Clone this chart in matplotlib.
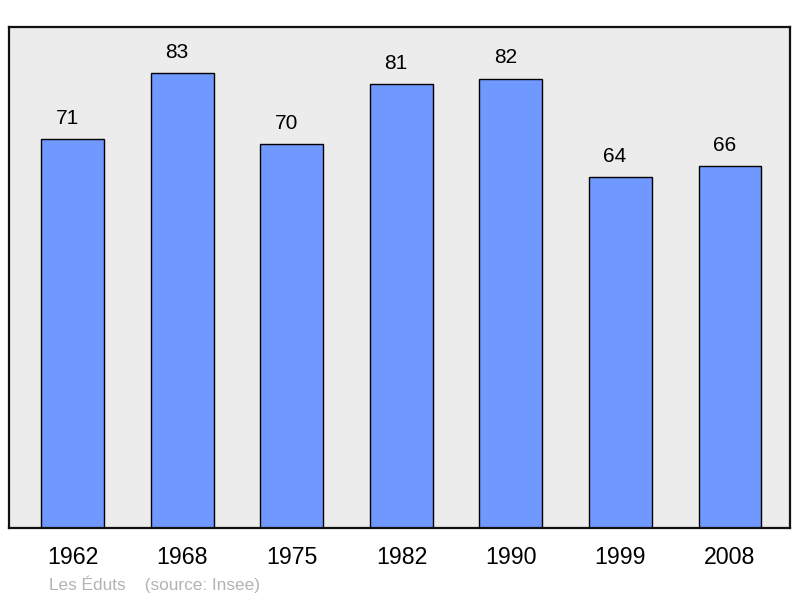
"""Population of Les Éduts by census year (source: Insee)."""
import matplotlib
matplotlib.use("Agg")
import matplotlib.pyplot as plt

years = ["1962", "1968", "1975", "1982", "1990", "1999", "2008"]
population = [71, 83, 70, 81, 82, 64, 66]

plt.rcParams["font.family"] = ["Liberation Sans", "DejaVu Sans"]

fig = plt.figure(figsize=(8, 5.98), dpi=100)
ax = fig.add_axes([9 / 800, 70 / 598, 781 / 800, 501 / 598])
ax.set_facecolor("#ececec")

x = list(range(len(years)))
bars = ax.bar(x, population, width=0.575, color="#7099ff",
              edgecolor="black", linewidth=1.0)
# labels sit a little left of the bar centres, like the original
for xi, v in zip(x, population):
    ax.annotate(str(v), (xi, v), xytext=(-4, 8), textcoords="offset points",
                ha="center", va="bottom", fontsize=15)

ax.set_xlim(-0.584, 6.548)
ax.set_ylim(0, 91.4)
ax.set_yticks([])
ax.set_xticks(x)
ax.set_xticklabels(years, fontsize=16.7)
ax.tick_params(axis="x", length=0, pad=13)
for s in ax.spines.values():
    s.set_linewidth(1.6)
    s.set_color("#111111")

fig.text(49 / 800, 1 - 584 / 598, "Les Éduts    (source: Insee)",
         fontsize=12.4, color="#b3b3b3", va="center", ha="left")

fig.savefig("out.png", dpi=100)
